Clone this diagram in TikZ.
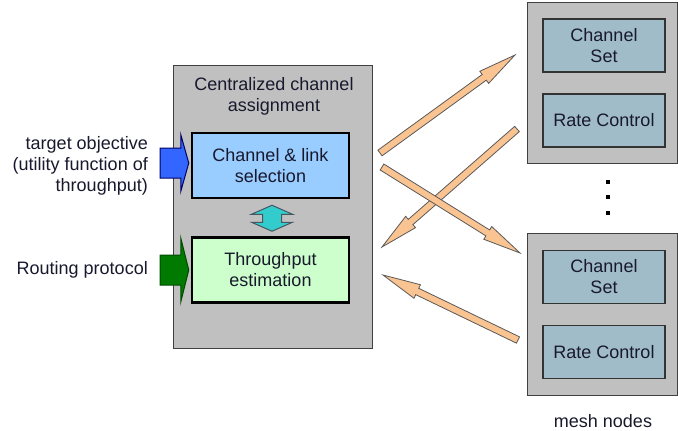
\documentclass[tikz,border=0pt]{standalone}
\usepackage{fontspec}
\setmainfont{Liberation Sans}
\usepackage{xcolor}
\usepackage{tikz}
\usetikzlibrary{calc}
\definecolor{ink}{RGB}{25,25,45}
\definecolor{boxgray}{RGB}{192,192,192}
\definecolor{selblue}{RGB}{153,204,255}
\definecolor{estgreen}{RGB}{204,255,204}
\definecolor{meshblue}{RGB}{160,188,200}
\definecolor{inblue}{RGB}{51,102,255}
\definecolor{ingreen}{RGB}{0,122,0}
\definecolor{linkcyan}{RGB}{51,204,204}
\definecolor{peach}{RGB}{250,196,146}
\tikzstyle{every node}=[text=ink,inner sep=0pt,align=center,font=\fontsize{18}{21}\selectfont]
\tikzstyle{graybox}=[draw=black!75,line width=1pt,fill=boxgray]
\tikzstyle{funcbox}=[draw=black,line width=2.5pt,minimum width=157pt,minimum height=65pt]
\tikzstyle{meshpart}=[draw=black!80,line width=1.5pt,fill=meshblue,minimum width=122pt,minimum height=53pt]
\tikzstyle{linkarrow}=[draw=black!65,line width=0.8pt,fill=peach]
\tikzstyle{inarrow}=[line width=1pt]
\tikzstyle{meshdot}=[fill=black,minimum size=4pt]
\newcommand{\fatarrow}[6]{%
	\path ($(#3)!#6!(#2)$) coordinate (hb);
	\draw[#1] ($(#2)!#4!90:(#3)$) -- ($(hb)!#4!90:(#3)$) -- ($(hb)!#5!90:(#3)$) -- (#3) -- ($(hb)!#5!-90:(#3)$) -- ($(hb)!#4!-90:(#3)$) -- ($(#2)!#4!-90:(#3)$) -- cycle;}
\newcommand{\fatdouble}[6]{%
	\path ($(#3)!#6!(#2)$) coordinate (hb) ($(#2)!#6!(#3)$) coordinate (ha);
	\draw[#1] (#2) -- ($(ha)!#5!90:(#3)$) -- ($(ha)!#4!90:(#3)$) -- ($(hb)!#4!90:(#3)$) -- ($(hb)!#5!90:(#3)$) -- (#3) -- ($(hb)!#5!-90:(#3)$) -- ($(hb)!#4!-90:(#3)$) -- ($(ha)!#4!-90:(#3)$) -- ($(ha)!#5!-90:(#3)$) -- cycle;}
\begin{document}
\begin{tikzpicture}[x=1pt,y=-1pt]
	\useasboundingbox (0,0) rectangle (678,431);
	\node[graybox,minimum width=199pt,minimum height=283pt] (cca) at (272.5,206.5) {};
	\node (ccatitle) at (274,96) {Centralized channel\\assignment};
	\node[funcbox,fill=selblue] (sel) at (270.5,165.5) {Channel \& link\\selection};
	\node[funcbox,fill=estgreen] (est) at (270.5,270) {Throughput\\estimation};
	\node[anchor=east,align=right] (obj) at (148,166) {target objective\\(utility function of\\throughput)};
	\node[anchor=east] (rout) at (148,270) {Routing protocol};
	\node[graybox,minimum width=150pt,minimum height=161pt] (mesh1) at (602,82.5) {};
	\node[graybox,minimum width=150pt,minimum height=162pt] (mesh2) at (602,314) {};
	\node[meshpart] (chset1) at (604,45.5) {Channel\\Set};
	\node[meshpart] (rate1) at (604,120.5) {Rate Control};
	\node[meshpart] (chset2) at (604,277) {Channel\\Set};
	\node[meshpart] (rate2) at (604,352) {Rate Control};
	\foreach \y [count=\i] in {182,197,213}
		\node[meshdot] (dot\i) at (608,\y) {};
	\node (meshlbl) at (603,421) {mesh nodes};
	\coordinate (objtail) at (160,163);
	\coordinate (routtail) at (160,270);
	\fatarrow{inarrow,draw=blue!40!black,fill=inblue}{objtail}{$(sel.west |- objtail)+(-2,0)$}{15pt}{28.5pt}{8pt}
	\fatarrow{inarrow,draw=green!30!black,fill=ingreen}{routtail}{$(est.west |- routtail)+(-2,0)$}{15pt}{32pt}{8pt}
	\fatdouble{inarrow,draw=cyan!30!black,fill=linkcyan}{$(sel.south)+(1.5,6)$}{$(est.north)+(1.5,-5)$}{9.5pt}{20.5pt}{9pt}
	\coordinate (s1) at (380,153);
	\coordinate (t1) at (515,55);
	\coordinate (s2) at (517,129);
	\coordinate (t2) at (382,247);
	\coordinate (s3) at (382,167);
	\coordinate (t3) at (520,253);
	\coordinate (s4) at (518,340);
	\coordinate (t4) at (383,275);
	\foreach \i in {1,...,4}{
		\fatarrow{linkarrow}{s\i}{t\i}{3.5pt}{7.5pt}{38pt}
	}
\end{tikzpicture}
\end{document}
